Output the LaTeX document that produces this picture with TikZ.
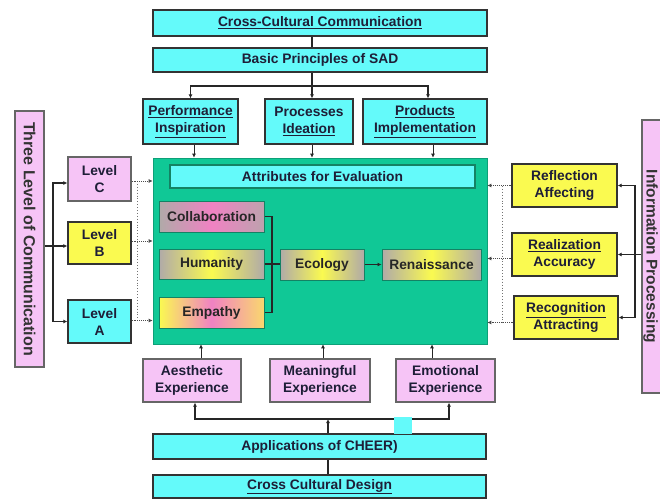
\documentclass[tikz,border=0pt]{standalone}
\usepackage{fontspec}
\setmainfont{Liberation Sans}
\usetikzlibrary{arrows.meta}
\definecolor{cyanbox}{RGB}{100,250,250}
\definecolor{pinkbox}{RGB}{246,196,246}
\definecolor{yelbox}{RGB}{250,250,80}
\definecolor{greenbg}{RGB}{16,200,150}
\definecolor{txt}{RGB}{30,30,55}
\definecolor{grayf}{RGB}{176,170,168}
\definecolor{pinkf}{RGB}{240,130,195}
\definecolor{orangef}{RGB}{250,215,110}
\definecolor{tealb}{RGB}{20,130,100}
\begin{document}
\begin{tikzpicture}[x=1pt,y=-1pt,
  sz/.style 2 args={minimum width=#1pt, minimum height=#2pt},
  box/.style={draw=black!80, line width=1.3pt, inner sep=0pt, align=center, text=txt,
    font=\bfseries\fontsize{13.8}{17}\selectfont},
  cbox/.style={box, fill=cyanbox},
  pbox/.style={box, fill=pinkbox, draw=black!60},
  ybox/.style={box, fill=yelbox},
  ibox/.style={box, draw=tealb, line width=1pt, text=black!85},
  gy/.style={left color=grayf, right color=grayf, middle color=yelbox},
  conn/.style={draw=black!85, line width=1.4pt},
  arr/.style={conn, -{Latex[length=4pt,width=4pt]}},
  dotl/.style={draw=black!55, line width=0.9pt, dotted},
  dotarr/.style={draw=black!70, line width=0.9pt, densely dotted, -{Latex[length=4pt,width=4pt]}},
  vtext/.style={rotate=-90, text=black!80, inner sep=0pt, font=\bfseries\fontsize{16}{18}\selectfont}
]
\useasboundingbox (0,0) rectangle (660,499);
\clip (0,0) rectangle (660,499);
\fill[white] (0,0) rectangle (660,499);

% top boxes
\node[cbox, sz={334}{26}] (ccc) at (320,23) {\underline{Cross-Cultural Communication}};
\node[cbox, sz={334}{24}] (bps) at (320,60) {Basic Principles of SAD};
\node[cbox, sz={95}{45}] (perf) at (190.5,121.5) {\underline{Performance}\\\underline{Inspiration}};
\node[cbox, sz={88}{45}] (proc) at (309,121.5) {Processes\\\underline{Ideation}};
\node[cbox, sz={124}{45}] (prod) at (425,121.5) {\underline{Products}\\\underline{Implementation}};

% green area
\node[draw=greenbg!80!black, line width=0.6pt, fill=greenbg, sz={334}{186}, inner sep=0pt] (green) at (320,251) {};
\node[cbox, draw=tealb, line width=1.2pt, sz={305}{23}] (attr) at (322.5,176.5) {Attributes for Evaluation};
\node[ibox, left color=grayf, right color=grayf!80!pinkf, middle color=pinkf, sz={105}{31}] (coll) at (211.5,216.5) {Collaboration};
\node[ibox, gy, sz={105}{30}] (hum) at (211.5,264) {Humanity};
\node[ibox, left color=yelbox, right color=orangef, middle color=pinkf, sz={105}{31}] (emp) at (211.5,312.5) {Empathy};
\node[ibox, gy, sz={84}{31}] (eco) at (322,264.5) {Ecology};
\node[ibox, gy, sz={99}{31}] (ren) at (431.5,264.5) {Renaissance};
\coordinate (gj) at (272,264);
\draw[conn, line width=1.2pt] (coll.east) -| (gj) |- (emp.east);
\draw[conn, line width=1.2pt] (hum.east) -- (eco.west |- hum.east);
\draw[arr, line width=1.2pt] (eco.east) -- (ren.west);

% left side
\node[pbox, sz={29}{256}] (three) at (29.5,239) {};
\node[vtext] (threet) at (three.center) {Three Level of Communication};
\node[pbox, sz={63}{44}] (levC) at (99.5,179) {Level\\C};
\node[ybox, sz={63}{42}] (levB) at (99.5,243) {Level\\B};
\node[cbox, sz={63}{43}] (levA) at (99.5,321.5) {Level\\A};
\coordinate (lj) at (53,246);
\coordinate (lcw) at ([yshift=-4pt]levC.west);
\draw[conn] (three.east |- lj) -- (lj);
\draw[arr] (lj) -- (levB.west |- lj);
\draw[arr] (lj) |- (lcw);
\draw[arr] (lj) |- (levA.west);
\coordinate (lce) at ([yshift=-2pt]levC.east);
\coordinate (lbe) at ([yshift=2pt]levB.east);
\coordinate (lae) at ([yshift=1pt]levA.east);
\draw[dotl] (137,181) -- (137,323);
\draw[dotarr] (lce) -- (green.west |- lce);
\draw[dotarr] (lbe) -- (green.west |- lbe);
\draw[dotarr] (lae) -- (green.west |- lae);

% right side
\node[pbox, sz={29}{273}] (info) at (656.5,256.5) {};
\node[vtext, font=\bfseries\fontsize{15.5}{18}\selectfont] (infot) at (650.5,256.5) {Information Processing};
\node[ybox, sz={105}{43}] (refl) at (564.5,185.5) {Reflection\\Affecting};
\node[ybox, sz={105}{43}] (real) at (564.5,254.5) {\underline{Realization}\\Accuracy};
\node[ybox, sz={104}{43}] (reco) at (566,317.5) {\underline{Recognition}\\Attracting};
\coordinate (rj) at (635,254.5);
\draw[arr] (info.west |- real.east) -- (real.east);
\draw[arr] (rj) |- (refl.east);
\draw[arr] (rj) |- (reco.east);
\coordinate (rrw) at ([yshift=-4pt]real.west);
\coordinate (rcw) at ([yshift=-5pt]reco.west);
\draw[dotl] (502,186) -- (502,323);
\draw[dotarr] (refl.west) -- (green.east |- refl.west);
\draw[dotarr] (rrw) -- (green.east |- rrw);
\draw[dotarr] (rcw) -- (green.east |- rcw);

% top connectors
\coordinate (tb) at (312,86);
\coordinate (prn) at ([xshift=3pt]prod.north);
\draw[conn] (ccc.south -| tb) -- (bps.north -| tb);
\draw[conn] (bps.south -| tb) -- (tb);
\draw[arr] (tb) -| (perf.north);
\draw[arr] (tb) -| (prn);
\draw[arr] (tb) -- (proc.north -| tb);
\coordinate (pa) at (194,150);
\coordinate (pb) at (312,150);
\coordinate (pc) at (433,150);
\draw[arr, line width=1pt] (perf.south -| pa) -- (green.north -| pa);
\draw[arr, line width=1pt] (proc.south -| pb) -- (green.north -| pb);
\draw[arr, line width=1pt] (prod.south -| pc) -- (green.north -| pc);

% bottom boxes
\node[pbox, sz={98}{43}] (aes) at (192,380.5) {Aesthetic\\Experience};
\node[pbox, sz={100}{43}] (mea) at (320,380.5) {Meaningful\\Experience};
\node[pbox, sz={99}{43}] (emo) at (445.5,380.5) {Emotional\\Experience};
\node[cbox, sz={333}{25}] (app) at (319.5,446.5) {Applications of CHEER)};
\node[cbox, sz={333}{23}] (ccd) at (319.5,486.5) {\underline{Cross Cultural Design}};

\coordinate (ea) at (201,350);
\coordinate (eb) at (323,350);
\coordinate (ec) at (432,350);
\draw[arr, line width=1pt] (aes.north -| ea) -- (green.south -| ea);
\draw[arr, line width=1pt] (mea.north -| eb) -- (green.south -| eb);
\draw[arr, line width=1pt] (emo.north -| ec) -- (green.south -| ec);

\coordinate (bj) at (328,419);
\coordinate (aess) at ([xshift=3pt]aes.south);
\coordinate (emos) at ([xshift=3.5pt]emo.south);
\draw[arr, line width=1.2pt] (app.north -| bj) -- (bj);
\draw[arr] (bj) -| (aess);
\draw[arr] (bj) -| (emos);
\draw[conn] (app.south -| bj) -- (ccd.north -| bj);
\fill[cyanbox] (394,417) rectangle (412,434);
\end{tikzpicture}
\end{document}
